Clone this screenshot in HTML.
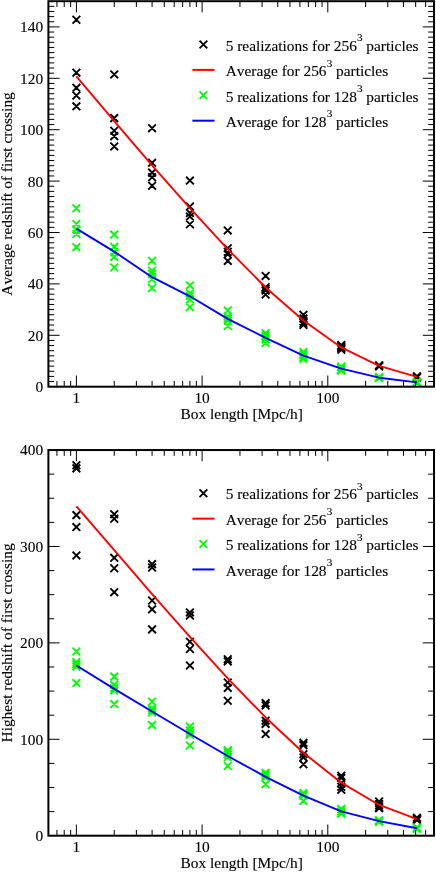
<!DOCTYPE html>
<html><head><meta charset="utf-8"><title>chart</title>
<style>
html,body{margin:0;padding:0;background:#fff;}
body{width:436px;height:872px;overflow:hidden;}
svg{display:block;position:absolute;left:0;top:0;will-change:transform;}
svg text{font-family:"Liberation Serif",serif;font-size:15.4px;fill:#000;stroke:#000;stroke-width:0.12px;font-kerning:none;font-variant-ligatures:none;}
</style></head><body>
<svg width="436" height="872" viewBox="0 0 436 872">
<rect width="436" height="872" fill="#fff"/>
<path d="M72.55 15.85L80.25 23.55M72.55 23.55L80.25 15.85M72.55 68.80L80.25 76.50M72.55 76.50L80.25 68.80M72.55 83.96L80.25 91.66M72.55 91.66L80.25 83.96M72.55 91.67L80.25 99.37M72.55 99.37L80.25 91.67M72.55 102.46L80.25 110.16M72.55 110.16L80.25 102.46M110.39 70.59L118.09 78.29M110.39 78.29L118.09 70.59M110.39 114.28L118.09 121.98M110.39 121.98L118.09 114.28M110.39 126.88L118.09 134.58M110.39 134.58L118.09 126.88M110.39 132.28L118.09 139.97M110.39 139.97L118.09 132.28M110.39 142.56L118.09 150.25M110.39 150.25L118.09 142.56M148.23 124.31L155.93 132.01M148.23 132.01L155.93 124.31M148.23 159.00L155.93 166.70M148.23 166.70L155.93 159.00M148.23 168.77L155.93 176.47M148.23 176.47L155.93 168.77M148.23 173.40L155.93 181.09M148.23 181.09L155.93 173.40M148.23 181.88L155.93 189.58M148.23 189.58L155.93 181.88M186.07 176.74L193.77 184.44M186.07 184.44L193.77 176.74M186.07 202.69L193.77 210.39M186.07 210.39L193.77 202.69M186.07 209.12L193.77 216.82M186.07 216.82L193.77 209.12M186.07 212.72L193.77 220.42M186.07 220.42L193.77 212.72M186.07 220.43L193.77 228.13M186.07 228.13L193.77 220.43M223.91 226.59L231.61 234.29M223.91 234.29L231.61 226.59M223.91 244.33L231.61 252.03M223.91 252.03L231.61 244.33M223.91 247.93L231.61 255.62M223.91 255.62L231.61 247.93M223.91 250.50L231.61 258.19M223.91 258.19L231.61 250.50M223.91 257.05L231.61 264.75M223.91 264.75L231.61 257.05M261.75 272.08L269.45 279.78M261.75 279.78L269.45 272.08M261.75 283.39L269.45 291.09M261.75 291.09L269.45 283.39M261.75 285.19L269.45 292.89M261.75 292.89L269.45 285.19M261.75 286.73L269.45 294.43M261.75 294.43L269.45 286.73M261.75 290.72L269.45 298.42M261.75 298.42L269.45 290.72M299.59 310.97L307.29 318.67M299.59 318.67L307.29 310.97M299.59 314.75L307.29 322.45M299.59 322.45L307.29 314.75M299.59 317.70L307.29 325.40M299.59 325.40L307.29 317.70M299.59 318.99L307.29 326.69M299.59 326.69L307.29 318.99M299.59 321.02L307.29 328.72M299.59 328.72L307.29 321.02M337.43 341.22L345.13 348.92M337.43 348.92L345.13 341.22M337.43 342.50L345.13 350.20M337.43 350.20L345.13 342.50M337.43 343.53L345.13 351.23M337.43 351.23L345.13 343.53M337.43 344.81L345.13 352.51M337.43 352.51L345.13 344.81M337.43 345.84L345.13 353.54M337.43 353.54L345.13 345.84M375.27 361.39L382.97 369.09M375.27 369.09L382.97 361.39M375.27 361.78L382.97 369.48M375.27 369.48L382.97 361.78M375.27 362.03L382.97 369.73M375.27 369.73L382.97 362.03M375.27 362.29L382.97 369.99M375.27 369.99L382.97 362.29M375.27 362.68L382.97 370.38M375.27 370.38L382.97 362.68M413.11 372.31L420.81 380.01M413.11 380.01L420.81 372.31M413.11 372.70L420.81 380.40M413.11 380.40L420.81 372.70M413.11 372.96L420.81 380.66M413.11 380.66L420.81 372.96M413.11 373.21L420.81 380.91M413.11 380.91L420.81 373.21M413.11 373.60L420.81 381.30M413.11 381.30L420.81 373.60" stroke="#000" stroke-width="1.9" fill="none"/>
<polyline points="76.40,76.40 114.24,121.17 152.08,165.32 189.92,208.19 227.76,249.13 265.60,287.47 303.44,320.53 341.28,347.43 379.12,365.88 416.96,376.81" stroke="#f00" stroke-width="1.9" fill="none" stroke-linejoin="round"/>
<path d="M72.55 204.49L80.25 212.19M72.55 212.19L80.25 204.49M72.55 220.17L80.25 227.87M72.55 227.87L80.25 220.17M72.55 225.57L80.25 233.27M72.55 233.27L80.25 225.57M72.55 230.19L80.25 237.89M72.55 237.89L80.25 230.19M72.55 243.30L80.25 251.00M72.55 251.00L80.25 243.30M110.39 230.71L118.09 238.41M110.39 238.41L118.09 230.71M110.39 243.04L118.09 250.74M110.39 250.74L118.09 243.04M110.39 248.44L118.09 256.14M110.39 256.14L118.09 248.44M110.39 253.06L118.09 260.76M110.39 260.76L118.09 253.06M110.39 263.60L118.09 271.30M110.39 271.30L118.09 263.60M148.23 256.92L155.93 264.62M148.23 264.62L155.93 256.92M148.23 266.94L155.93 274.64M148.23 274.64L155.93 266.94M148.23 270.03L155.93 277.73M148.23 277.73L155.93 270.03M148.23 275.42L155.93 283.12M148.23 283.12L155.93 275.42M148.23 284.16L155.93 291.86M148.23 291.86L155.93 284.16M186.07 281.59L193.77 289.29M186.07 289.29L193.77 281.59M186.07 289.30L193.77 297.00M186.07 297.00L193.77 289.30M186.07 292.13L193.77 299.83M186.07 299.83L193.77 292.13M186.07 295.73L193.77 303.43M186.07 303.43L193.77 295.73M186.07 303.44L193.77 311.14M186.07 311.14L193.77 303.44M223.91 306.65L231.61 314.35M223.91 314.35L231.61 306.65M223.91 312.56L231.61 320.26M223.91 320.26L231.61 312.56M223.91 314.75L231.61 322.45M223.91 322.45L231.61 314.75M223.91 316.80L231.61 324.50M223.91 324.50L231.61 316.80M223.91 322.20L231.61 329.90M223.91 329.90L231.61 322.20M261.75 329.39L269.45 337.09M261.75 337.09L269.45 329.39M261.75 331.96L269.45 339.66M261.75 339.66L269.45 331.96M261.75 333.76L269.45 341.46M261.75 341.46L269.45 333.76M261.75 335.56L269.45 343.26M261.75 343.26L269.45 335.56M261.75 339.16L269.45 346.86M261.75 346.86L269.45 339.16M299.59 348.15L307.29 355.86M299.59 355.86L307.29 348.15M299.59 350.47L307.29 358.17M299.59 358.17L307.29 350.47M299.59 351.75L307.29 359.45M299.59 359.45L307.29 351.75M299.59 353.29L307.29 361.00M299.59 361.00L307.29 353.29M299.59 355.09L307.29 362.79M299.59 362.79L307.29 355.09M337.43 362.68L345.13 370.38M337.43 370.38L345.13 362.68M337.43 363.83L345.13 371.53M337.43 371.53L345.13 363.83M337.43 364.86L345.13 372.56M337.43 372.56L345.13 364.86M337.43 365.89L345.13 373.59M337.43 373.59L345.13 365.89M337.43 366.92L345.13 374.62M337.43 374.62L345.13 366.92M375.27 373.21L382.97 380.91M375.27 380.91L382.97 373.21M375.27 373.60L382.97 381.30M375.27 381.30L382.97 373.60M375.27 373.85L382.97 381.56M375.27 381.56L382.97 373.85M375.27 374.11L382.97 381.81M375.27 381.81L382.97 374.11M375.27 374.50L382.97 382.20M375.27 382.20L382.97 374.50M413.11 377.97L420.81 385.67M413.11 385.67L420.81 377.97M413.11 378.48L420.81 386.18M413.11 386.18L420.81 378.48M413.11 378.61L420.81 386.31M413.11 386.31L420.81 378.61M413.11 378.74L420.81 386.44M413.11 386.44L420.81 378.74M413.11 378.99L420.81 386.69M413.11 386.69L420.81 378.99" stroke="#0f0" stroke-width="1.9" fill="none"/>
<polyline points="76.40,228.59 114.24,251.62 152.08,277.22 189.92,296.29 227.76,318.85 265.60,337.82 303.44,355.60 341.28,368.68 379.12,377.70 416.96,382.41" stroke="#00f" stroke-width="1.9" fill="none" stroke-linejoin="round"/>
<path d="M72.55 461.43L80.25 469.13M72.55 469.13L80.25 461.43M72.55 464.52L80.25 472.22M72.55 472.22L80.25 464.52M72.55 511.28L80.25 518.98M72.55 518.98L80.25 511.28M72.55 523.23L80.25 530.93M72.55 530.93L80.25 523.23M72.55 551.58L80.25 559.28M72.55 559.28L80.25 551.58M110.39 510.31L118.09 518.01M110.39 518.01L118.09 510.31M110.39 514.94L118.09 522.64M110.39 522.64L118.09 514.94M110.39 553.99L118.09 561.69M110.39 561.69L118.09 553.99M110.39 564.40L118.09 572.10M110.39 572.10L118.09 564.40M110.39 588.31L118.09 596.01M110.39 596.01L118.09 588.31M148.23 560.26L155.93 567.96M148.23 567.96L155.93 560.26M148.23 563.63L155.93 571.33M148.23 571.33L155.93 563.63M148.23 596.60L155.93 604.30M148.23 604.30L155.93 596.60M148.23 605.47L155.93 613.17M148.23 613.17L155.93 605.47M148.23 625.53L155.93 633.23M148.23 633.23L155.93 625.53M186.07 608.56L193.77 616.26M186.07 616.26L193.77 608.56M186.07 611.64L193.77 619.34M186.07 619.34L193.77 611.64M186.07 637.87L193.77 645.57M186.07 645.57L193.77 637.87M186.07 645.20L193.77 652.90M186.07 652.90L193.77 645.20M186.07 661.68L193.77 669.38M186.07 669.38L193.77 661.68M223.91 655.32L231.61 663.02M223.91 663.02L231.61 655.32M223.91 657.54L231.61 665.24M223.91 665.24L231.61 657.54M223.91 678.55L231.61 686.25M223.91 686.25L231.61 678.55M223.91 684.05L231.61 691.75M223.91 691.75L231.61 684.05M223.91 696.87L231.61 704.57M223.91 704.57L231.61 696.87M261.75 699.28L269.45 706.98M261.75 706.98L269.45 699.28M261.75 701.69L269.45 709.39M261.75 709.39L269.45 701.69M261.75 716.83L269.45 724.53M261.75 724.53L269.45 716.83M261.75 720.01L269.45 727.71M261.75 727.71L269.45 720.01M261.75 730.23L269.45 737.93M261.75 737.93L269.45 730.23M299.59 739.00L307.29 746.70M299.59 746.70L307.29 739.00M299.59 741.32L307.29 749.02M299.59 749.02L307.29 741.32M299.59 750.38L307.29 758.08M299.59 758.08L307.29 750.38M299.59 753.56L307.29 761.26M299.59 761.26L307.29 753.56M299.59 760.50L307.29 768.20M299.59 768.20L307.29 760.50M337.43 771.88L345.13 779.58M337.43 779.58L345.13 771.88M337.43 774.20L345.13 781.90M337.43 781.90L345.13 774.20M337.43 779.21L345.13 786.91M337.43 786.91L345.13 779.21M337.43 782.87L345.13 790.57M337.43 790.57L345.13 782.87M337.43 785.96L345.13 793.66M337.43 793.66L345.13 785.96M375.27 797.62L382.97 805.32M375.27 805.32L382.97 797.62M375.27 799.36L382.97 807.06M375.27 807.06L382.97 799.36M375.27 801.19L382.97 808.89M375.27 808.89L382.97 801.19M375.27 803.12L382.97 810.82M375.27 810.82L382.97 803.12M375.27 804.28L382.97 811.98M375.27 811.98L382.97 804.28M413.11 813.82L420.81 821.52M413.11 821.52L420.81 813.82M413.11 814.78L420.81 822.48M413.11 822.48L420.81 814.78M413.11 815.27L420.81 822.97M413.11 822.97L420.81 815.27M413.11 815.75L420.81 823.45M413.11 823.45L420.81 815.75M413.11 816.23L420.81 823.93M413.11 823.93L420.81 816.23" stroke="#000" stroke-width="1.9" fill="none"/>
<polyline points="76.40,506.26 114.24,550.24 152.08,594.15 189.92,636.84 227.76,678.32 265.60,717.46 303.44,752.80 341.28,782.67 379.12,804.96 416.96,819.02" stroke="#f00" stroke-width="1.9" fill="none" stroke-linejoin="round"/>
<path d="M72.55 647.70L80.25 655.40M72.55 655.40L80.25 647.70M72.55 658.11L80.25 665.81M72.55 665.81L80.25 658.11M72.55 660.52L80.25 668.22M72.55 668.22L80.25 660.52M72.55 662.74L80.25 670.44M72.55 670.44L80.25 662.74M72.55 679.23L80.25 686.93M72.55 686.93L80.25 679.23M110.39 672.77L118.09 680.47M110.39 680.47L118.09 672.77M110.39 680.96L118.09 688.66M110.39 688.66L118.09 680.96M110.39 684.34L118.09 692.04M110.39 692.04L118.09 684.34M110.39 686.56L118.09 694.26M110.39 694.26L118.09 686.56M110.39 700.25L118.09 707.95M110.39 707.95L118.09 700.25M148.23 697.93L155.93 705.63M148.23 705.63L155.93 697.93M148.23 704.39L155.93 712.09M148.23 712.09L155.93 704.39M148.23 706.22L155.93 713.92M148.23 713.92L155.93 706.22M148.23 708.63L155.93 716.33M148.23 716.33L155.93 708.63M148.23 721.26L155.93 728.96M148.23 728.96L155.93 721.26M186.07 722.71L193.77 730.41M186.07 730.41L193.77 722.71M186.07 726.47L193.77 734.17M186.07 734.17L193.77 726.47M186.07 729.17L193.77 736.87M186.07 736.87L193.77 729.17M186.07 730.91L193.77 738.61M186.07 738.61L193.77 730.91M186.07 741.61L193.77 749.31M186.07 749.31L193.77 741.61M223.91 746.52L231.61 754.22M223.91 754.22L231.61 746.52M223.91 748.26L231.61 755.96M223.91 755.96L231.61 748.26M223.91 750.67L231.61 758.37M223.91 758.37L231.61 750.67M223.91 753.37L231.61 761.07M223.91 761.07L231.61 753.37M223.91 762.14L231.61 769.84M223.91 769.84L231.61 762.14M261.75 768.99L269.45 776.69M261.75 776.69L269.45 768.99M261.75 769.95L269.45 777.65M261.75 777.65L269.45 769.95M261.75 771.69L269.45 779.39M261.75 779.39L269.45 771.69M261.75 773.71L269.45 781.41M261.75 781.41L269.45 773.71M261.75 780.46L269.45 788.16M261.75 788.16L269.45 780.46M299.59 789.14L307.29 796.84M299.59 796.84L307.29 789.14M299.59 790.06L307.29 797.76M299.59 797.76L307.29 790.06M299.59 790.97L307.29 798.67M299.59 798.67L307.29 790.97M299.59 791.98L307.29 799.68M299.59 799.68L307.29 791.98M299.59 797.05L307.29 804.75M299.59 804.75L307.29 797.05M337.43 805.05L345.13 812.75M337.43 812.75L345.13 805.05M337.43 805.43L345.13 813.13M337.43 813.13L345.13 805.43M337.43 807.75L345.13 815.45M337.43 815.45L345.13 807.75M337.43 809.48L345.13 817.18M337.43 817.18L345.13 809.48M337.43 809.87L345.13 817.57M337.43 817.57L345.13 809.87M375.27 816.42L382.97 824.12M375.27 824.12L382.97 816.42M375.27 816.91L382.97 824.61M375.27 824.61L382.97 816.91M375.27 817.20L382.97 824.90M375.27 824.90L382.97 817.20M375.27 817.58L382.97 825.28M375.27 825.28L382.97 817.58M375.27 818.06L382.97 825.76M375.27 825.76L382.97 818.06M413.11 823.65L420.81 831.35M413.11 831.35L420.81 823.65M413.11 824.14L420.81 831.84M413.11 831.84L420.81 824.14M413.11 824.43L420.81 832.13M413.11 832.13L420.81 824.43M413.11 824.72L420.81 832.42M413.11 832.42L420.81 824.72M413.11 825.10L420.81 832.80M413.11 832.80L420.81 825.10" stroke="#0f0" stroke-width="1.9" fill="none"/>
<polyline points="76.40,665.51 114.24,688.83 152.08,711.54 189.92,734.02 227.76,756.04 265.60,776.81 303.44,795.69 341.28,811.37 379.12,821.08 416.96,828.26" stroke="#00f" stroke-width="1.9" fill="none" stroke-linejoin="round"/>
<path d="M56.93 386.7V380.9M56.93 1.2V7.0M64.22 386.7V380.9M64.22 1.2V7.0M70.65 386.7V380.9M70.65 1.2V7.0M76.40 386.7V375.5M76.40 1.2V12.399999999999999M114.24 386.7V380.9M114.24 1.2V7.0M136.37 386.7V380.9M136.37 1.2V7.0M152.08 386.7V380.9M152.08 1.2V7.0M164.26 386.7V380.9M164.26 1.2V7.0M174.21 386.7V380.9M174.21 1.2V7.0M182.63 386.7V380.9M182.63 1.2V7.0M189.92 386.7V380.9M189.92 1.2V7.0M196.35 386.7V380.9M196.35 1.2V7.0M202.10 386.7V375.5M202.10 1.2V12.399999999999999M239.94 386.7V380.9M239.94 1.2V7.0M262.07 386.7V380.9M262.07 1.2V7.0M277.78 386.7V380.9M277.78 1.2V7.0M289.96 386.7V380.9M289.96 1.2V7.0M299.91 386.7V380.9M299.91 1.2V7.0M308.33 386.7V380.9M308.33 1.2V7.0M315.62 386.7V380.9M315.62 1.2V7.0M322.05 386.7V380.9M322.05 1.2V7.0M327.80 386.7V375.5M327.80 1.2V12.399999999999999M365.64 386.7V380.9M365.64 1.2V7.0M387.77 386.7V380.9M387.77 1.2V7.0M403.48 386.7V380.9M403.48 1.2V7.0M415.66 386.7V380.9M415.66 1.2V7.0M425.61 386.7V380.9M425.61 1.2V7.0M48.4 381.56H54.199999999999996M434.0 381.56H428.2M48.4 376.42H54.199999999999996M434.0 376.42H428.2M48.4 371.28H54.199999999999996M434.0 371.28H428.2M48.4 366.14H54.199999999999996M434.0 366.14H428.2M48.4 361.00H54.199999999999996M434.0 361.00H428.2M48.4 355.86H54.199999999999996M434.0 355.86H428.2M48.4 350.72H54.199999999999996M434.0 350.72H428.2M48.4 345.58H54.199999999999996M434.0 345.58H428.2M48.4 340.44H54.199999999999996M434.0 340.44H428.2M48.4 335.30H59.599999999999994M434.0 335.30H422.8M48.4 330.16H54.199999999999996M434.0 330.16H428.2M48.4 325.02H54.199999999999996M434.0 325.02H428.2M48.4 319.88H54.199999999999996M434.0 319.88H428.2M48.4 314.74H54.199999999999996M434.0 314.74H428.2M48.4 309.60H54.199999999999996M434.0 309.60H428.2M48.4 304.46H54.199999999999996M434.0 304.46H428.2M48.4 299.32H54.199999999999996M434.0 299.32H428.2M48.4 294.18H54.199999999999996M434.0 294.18H428.2M48.4 289.04H54.199999999999996M434.0 289.04H428.2M48.4 283.90H59.599999999999994M434.0 283.90H422.8M48.4 278.76H54.199999999999996M434.0 278.76H428.2M48.4 273.62H54.199999999999996M434.0 273.62H428.2M48.4 268.48H54.199999999999996M434.0 268.48H428.2M48.4 263.34H54.199999999999996M434.0 263.34H428.2M48.4 258.20H54.199999999999996M434.0 258.20H428.2M48.4 253.06H54.199999999999996M434.0 253.06H428.2M48.4 247.92H54.199999999999996M434.0 247.92H428.2M48.4 242.78H54.199999999999996M434.0 242.78H428.2M48.4 237.64H54.199999999999996M434.0 237.64H428.2M48.4 232.50H59.599999999999994M434.0 232.50H422.8M48.4 227.36H54.199999999999996M434.0 227.36H428.2M48.4 222.22H54.199999999999996M434.0 222.22H428.2M48.4 217.08H54.199999999999996M434.0 217.08H428.2M48.4 211.94H54.199999999999996M434.0 211.94H428.2M48.4 206.80H54.199999999999996M434.0 206.80H428.2M48.4 201.66H54.199999999999996M434.0 201.66H428.2M48.4 196.52H54.199999999999996M434.0 196.52H428.2M48.4 191.38H54.199999999999996M434.0 191.38H428.2M48.4 186.24H54.199999999999996M434.0 186.24H428.2M48.4 181.10H59.599999999999994M434.0 181.10H422.8M48.4 175.96H54.199999999999996M434.0 175.96H428.2M48.4 170.82H54.199999999999996M434.0 170.82H428.2M48.4 165.68H54.199999999999996M434.0 165.68H428.2M48.4 160.54H54.199999999999996M434.0 160.54H428.2M48.4 155.40H54.199999999999996M434.0 155.40H428.2M48.4 150.26H54.199999999999996M434.0 150.26H428.2M48.4 145.12H54.199999999999996M434.0 145.12H428.2M48.4 139.98H54.199999999999996M434.0 139.98H428.2M48.4 134.84H54.199999999999996M434.0 134.84H428.2M48.4 129.70H59.599999999999994M434.0 129.70H422.8M48.4 124.56H54.199999999999996M434.0 124.56H428.2M48.4 119.42H54.199999999999996M434.0 119.42H428.2M48.4 114.28H54.199999999999996M434.0 114.28H428.2M48.4 109.14H54.199999999999996M434.0 109.14H428.2M48.4 104.00H54.199999999999996M434.0 104.00H428.2M48.4 98.86H54.199999999999996M434.0 98.86H428.2M48.4 93.72H54.199999999999996M434.0 93.72H428.2M48.4 88.58H54.199999999999996M434.0 88.58H428.2M48.4 83.44H54.199999999999996M434.0 83.44H428.2M48.4 78.30H59.599999999999994M434.0 78.30H422.8M48.4 73.16H54.199999999999996M434.0 73.16H428.2M48.4 68.02H54.199999999999996M434.0 68.02H428.2M48.4 62.88H54.199999999999996M434.0 62.88H428.2M48.4 57.74H54.199999999999996M434.0 57.74H428.2M48.4 52.60H54.199999999999996M434.0 52.60H428.2M48.4 47.46H54.199999999999996M434.0 47.46H428.2M48.4 42.32H54.199999999999996M434.0 42.32H428.2M48.4 37.18H54.199999999999996M434.0 37.18H428.2M48.4 32.04H54.199999999999996M434.0 32.04H428.2M48.4 26.90H59.599999999999994M434.0 26.90H422.8M48.4 21.76H54.199999999999996M434.0 21.76H428.2M48.4 16.62H54.199999999999996M434.0 16.62H428.2M48.4 11.48H54.199999999999996M434.0 11.48H428.2M48.4 6.34H54.199999999999996M434.0 6.34H428.2" stroke="#000" stroke-width="1" fill="none"/>
<rect x="48.4" y="1.2" width="385.6" height="385.5" fill="none" stroke="#000" stroke-width="2"/>
<text x="43.1" y="392.10" text-anchor="end">0</text>
<text x="43.1" y="340.70" text-anchor="end">20</text>
<text x="43.1" y="289.30" text-anchor="end">40</text>
<text x="43.1" y="237.90" text-anchor="end">60</text>
<text x="43.1" y="186.50" text-anchor="end">80</text>
<text x="43.1" y="135.10" text-anchor="end">100</text>
<text x="43.1" y="83.70" text-anchor="end">120</text>
<text x="43.1" y="32.30" text-anchor="end">140</text>
<text x="76.40" y="402.50" text-anchor="middle">1</text>
<text x="202.10" y="402.50" text-anchor="middle">10</text>
<text x="327.80" y="402.50" text-anchor="middle">100</text>
<text x="241.70" y="418.60" text-anchor="middle">Box length [Mpc/h]</text>
<path d="M56.93 835.7V829.9000000000001M56.93 450.05V455.85M64.22 835.7V829.9000000000001M64.22 450.05V455.85M70.65 835.7V829.9000000000001M70.65 450.05V455.85M76.40 835.7V824.5M76.40 450.05V461.25M114.24 835.7V829.9000000000001M114.24 450.05V455.85M136.37 835.7V829.9000000000001M136.37 450.05V455.85M152.08 835.7V829.9000000000001M152.08 450.05V455.85M164.26 835.7V829.9000000000001M164.26 450.05V455.85M174.21 835.7V829.9000000000001M174.21 450.05V455.85M182.63 835.7V829.9000000000001M182.63 450.05V455.85M189.92 835.7V829.9000000000001M189.92 450.05V455.85M196.35 835.7V829.9000000000001M196.35 450.05V455.85M202.10 835.7V824.5M202.10 450.05V461.25M239.94 835.7V829.9000000000001M239.94 450.05V455.85M262.07 835.7V829.9000000000001M262.07 450.05V455.85M277.78 835.7V829.9000000000001M277.78 450.05V455.85M289.96 835.7V829.9000000000001M289.96 450.05V455.85M299.91 835.7V829.9000000000001M299.91 450.05V455.85M308.33 835.7V829.9000000000001M308.33 450.05V455.85M315.62 835.7V829.9000000000001M315.62 450.05V455.85M322.05 835.7V829.9000000000001M322.05 450.05V455.85M327.80 835.7V824.5M327.80 450.05V461.25M365.64 835.7V829.9000000000001M365.64 450.05V455.85M387.77 835.7V829.9000000000001M387.77 450.05V455.85M403.48 835.7V829.9000000000001M403.48 450.05V455.85M415.66 835.7V829.9000000000001M415.66 450.05V455.85M425.61 835.7V829.9000000000001M425.61 450.05V455.85M48.4 811.60H54.199999999999996M434.0 811.60H428.2M48.4 787.49H54.199999999999996M434.0 787.49H428.2M48.4 763.39H54.199999999999996M434.0 763.39H428.2M48.4 739.29H59.599999999999994M434.0 739.29H422.8M48.4 715.18H54.199999999999996M434.0 715.18H428.2M48.4 691.08H54.199999999999996M434.0 691.08H428.2M48.4 666.98H54.199999999999996M434.0 666.98H428.2M48.4 642.88H59.599999999999994M434.0 642.88H422.8M48.4 618.77H54.199999999999996M434.0 618.77H428.2M48.4 594.67H54.199999999999996M434.0 594.67H428.2M48.4 570.57H54.199999999999996M434.0 570.57H428.2M48.4 546.46H59.599999999999994M434.0 546.46H422.8M48.4 522.36H54.199999999999996M434.0 522.36H428.2M48.4 498.26H54.199999999999996M434.0 498.26H428.2M48.4 474.15H54.199999999999996M434.0 474.15H428.2" stroke="#000" stroke-width="1" fill="none"/>
<rect x="48.4" y="450.05" width="385.6" height="385.65000000000003" fill="none" stroke="#000" stroke-width="2"/>
<text x="43.1" y="841.10" text-anchor="end">0</text>
<text x="43.1" y="744.69" text-anchor="end">100</text>
<text x="43.1" y="648.27" text-anchor="end">200</text>
<text x="43.1" y="551.86" text-anchor="end">300</text>
<text x="43.1" y="455.45" text-anchor="end">400</text>
<text x="76.40" y="851.50" text-anchor="middle">1</text>
<text x="202.10" y="851.50" text-anchor="middle">10</text>
<text x="327.80" y="851.50" text-anchor="middle">100</text>
<text x="241.70" y="867.60" text-anchor="middle">Box length [Mpc/h]</text>
<path d="M199.55 40.65L207.25 48.35M199.55 48.35L207.25 40.65" stroke="#000" stroke-width="1.9" fill="none"/>
<path d="M192.4 69.90H214.5" stroke="#f00" stroke-width="2"/>
<path d="M199.55 91.45L207.25 99.15M199.55 99.15L207.25 91.45" stroke="#0f0" stroke-width="1.9" fill="none"/>
<path d="M192.4 120.70H214.5" stroke="#00f" stroke-width="2"/>
<text x="225.7" y="50.70">5 realizations for 256<tspan dy="-9.5" dx="0.2" font-size="11.2">3</tspan><tspan dy="9.5" dx="-0.2"> particles</tspan></text>
<text x="225.7" y="76.10">Average for 256<tspan dy="-9.5" dx="0.2" font-size="11.2">3</tspan><tspan dy="9.5" dx="-0.2"> particles</tspan></text>
<text x="225.7" y="101.50">5 realizations for 128<tspan dy="-9.5" dx="0.2" font-size="11.2">3</tspan><tspan dy="9.5" dx="-0.2"> particles</tspan></text>
<text x="225.7" y="126.90">Average for 128<tspan dy="-9.5" dx="0.2" font-size="11.2">3</tspan><tspan dy="9.5" dx="-0.2"> particles</tspan></text>
<path d="M199.55 489.40L207.25 497.10M199.55 497.10L207.25 489.40" stroke="#000" stroke-width="1.9" fill="none"/>
<path d="M192.4 518.65H214.5" stroke="#f00" stroke-width="2"/>
<path d="M199.55 540.20L207.25 547.90M199.55 547.90L207.25 540.20" stroke="#0f0" stroke-width="1.9" fill="none"/>
<path d="M192.4 569.45H214.5" stroke="#00f" stroke-width="2"/>
<text x="225.7" y="499.45">5 realizations for 256<tspan dy="-9.5" dx="0.2" font-size="11.2">3</tspan><tspan dy="9.5" dx="-0.2"> particles</tspan></text>
<text x="225.7" y="524.85">Average for 256<tspan dy="-9.5" dx="0.2" font-size="11.2">3</tspan><tspan dy="9.5" dx="-0.2"> particles</tspan></text>
<text x="225.7" y="550.25">5 realizations for 128<tspan dy="-9.5" dx="0.2" font-size="11.2">3</tspan><tspan dy="9.5" dx="-0.2"> particles</tspan></text>
<text x="225.7" y="575.65">Average for 128<tspan dy="-9.5" dx="0.2" font-size="11.2">3</tspan><tspan dy="9.5" dx="-0.2"> particles</tspan></text>
<text transform="translate(11.9,193.95) rotate(-90)" text-anchor="middle">Average redshift of first crossing</text>
<text transform="translate(11.9,642.88) rotate(-90)" text-anchor="middle">Highest redshift of first crossing</text>
</svg>
</body></html>
